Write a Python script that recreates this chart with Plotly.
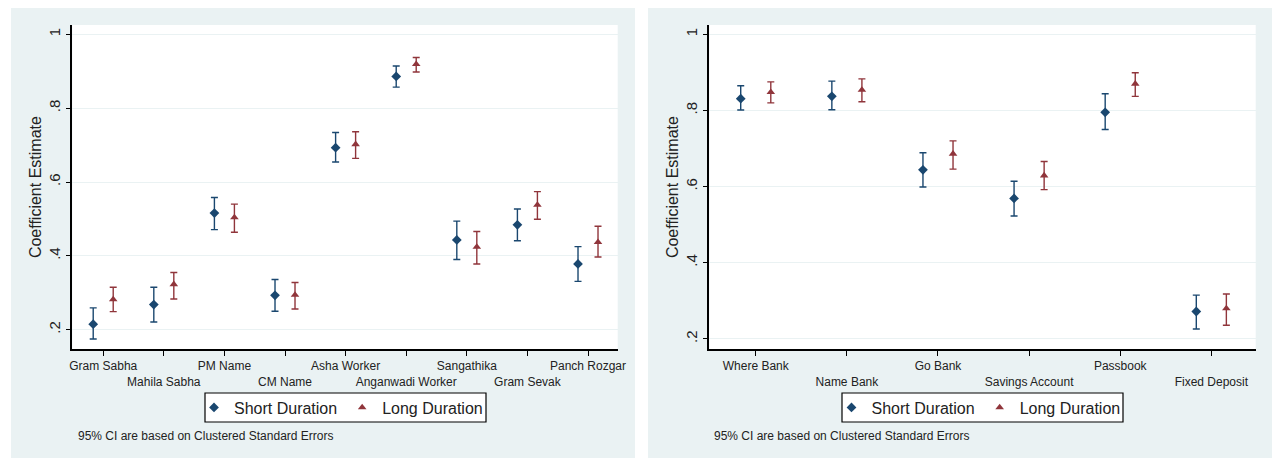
import plotly.graph_objects as go

# ---- Left panel: knowledge of local institutions and functionaries ----
inst_labels = ["Gram Sabha", "Mahila Sabha", "PM Name", "CM Name", "Asha Worker",
               "Anganwadi Worker", "Sangathika", "Gram Sevak", "Panch Rozgar"]
inst_short = [0.215, 0.268, 0.516, 0.293, 0.693, 0.886, 0.443, 0.484, 0.378]
inst_short_lo = [0.175, 0.221, 0.471, 0.250, 0.654, 0.857, 0.390, 0.441, 0.331]
inst_short_hi = [0.259, 0.315, 0.558, 0.336, 0.734, 0.914, 0.494, 0.527, 0.425]
inst_long = [0.282, 0.323, 0.504, 0.294, 0.702, 0.919, 0.424, 0.538, 0.437]
inst_long_lo = [0.249, 0.283, 0.464, 0.256, 0.664, 0.898, 0.378, 0.499, 0.397]
inst_long_hi = [0.315, 0.355, 0.540, 0.328, 0.736, 0.937, 0.466, 0.574, 0.480]

# ---- Right panel: banking knowledge and use ----
bank_labels = ["Where Bank", "Name Bank", "Go Bank", "Savings Account",
               "Passbook", "Fixed Deposit"]
bank_short = [0.831, 0.837, 0.644, 0.569, 0.795, 0.272]
bank_short_lo = [0.801, 0.802, 0.599, 0.523, 0.750, 0.226]
bank_short_hi = [0.865, 0.877, 0.689, 0.614, 0.844, 0.315]
bank_long = [0.848, 0.854, 0.686, 0.629, 0.870, 0.280]
bank_long_lo = [0.820, 0.823, 0.646, 0.592, 0.837, 0.236]
bank_long_hi = [0.875, 0.883, 0.720, 0.666, 0.899, 0.318]

y_ticks = [0.2, 0.4, 0.6, 0.8, 1.0]
y_ticktext = [".2", ".4", ".6", ".8", "1"]
note_text = "95% CI are based on Clustered Standard Errors"

NAVY = "#1A476F"
MAROON = "#90353B"
BG = "#EAF2F3"
FONT = "Liberation Sans, Arial, sans-serif"
TXT = "#222222"
W, H = 1272, 458
OFFSET = 0.165


def px(x):
    return x / W


def py(y):
    return 1 - y / H


def staggered(labels):
    return [lab if i % 2 == 0 else "<br>" + lab for i, lab in enumerate(labels)]


def ci_trace(n_off, est, lo, hi, name, color, symbol, size, xa, ya, legend):
    xs = [i + 1 + n_off for i in range(len(est))]
    return go.Scatter(
        x=xs, y=est, mode="markers", name=name,
        marker=dict(symbol=symbol, size=size, color=color),
        error_y=dict(type="data", symmetric=False,
                     array=[h - e for h, e in zip(hi, est)],
                     arrayminus=[e - l for e, l in zip(est, lo)],
                     color=color, thickness=1.4, width=3.5),
        xaxis=xa, yaxis=ya, legend=legend,
    )


fig = go.Figure()
fig.add_trace(ci_trace(-OFFSET, inst_short, inst_short_lo, inst_short_hi,
                       "Short Duration", NAVY, "diamond", 7.5, "x", "y", "legend"))
fig.add_trace(ci_trace(OFFSET, inst_long, inst_long_lo, inst_long_hi,
                       "Long Duration", MAROON, "triangle-up", 7.5, "x", "y", "legend"))
fig.add_trace(ci_trace(-OFFSET, bank_short, bank_short_lo, bank_short_hi,
                       "Short Duration", NAVY, "diamond", 7.5, "x2", "y2", "legend2"))
fig.add_trace(ci_trace(OFFSET, bank_long, bank_long_lo, bank_long_hi,
                       "Long Duration", MAROON, "triangle-up", 7.5, "x2", "y2", "legend2"))

left_dom = [px(72.3), px(617.7)]
right_dom = [px(709.3), px(1255.7)]
y_dom = [py(349.2), py(25)]

xcommon = dict(showline=True, linecolor="black", linewidth=1.5, ticks="outside",
               ticklen=5, tickcolor="black", showgrid=False, zeroline=False,
               tickangle=0, automargin=False,
               tickfont=dict(family=FONT, size=12, color=TXT))
ycommon = dict(showline=True, linecolor="black", linewidth=1.5, ticks="outside",
               ticklen=5, tickcolor="black", showgrid=True, gridcolor=BG,
               gridwidth=1, zeroline=False, tickvals=y_ticks, ticktext=y_ticktext,
               tickangle=-90, automargin=False,
               tickfont=dict(family=FONT, size=15, color=TXT),
               title=dict(text="Coefficient Estimate", standoff=0,
                          font=dict(family=FONT, size=16, color=TXT)))

legend_common = dict(orientation="h", xanchor="center", yanchor="middle",
                     bgcolor="rgba(0,0,0,0)", borderwidth=0,
                     font=dict(family=FONT, size=16, color=TXT), itemwidth=30,
                     tracegroupgap=0)

# legend frames (white boxes with a black outline)
frames = [(205, 486), (842, 1123)]

shapes = [
    dict(type="rect", xref="paper", yref="paper", x0=px(11), x1=px(635),
         y0=0, y1=py(8), fillcolor=BG, line_width=0, layer="below"),
    dict(type="rect", xref="paper", yref="paper", x0=px(648), x1=1,
         y0=0, y1=py(8), fillcolor=BG, line_width=0, layer="below"),
    dict(type="rect", xref="paper", yref="paper", x0=left_dom[0], x1=left_dom[1],
         y0=y_dom[0], y1=y_dom[1], fillcolor="white", line_width=0, layer="below"),
    dict(type="rect", xref="paper", yref="paper", x0=right_dom[0], x1=right_dom[1],
         y0=y_dom[0], y1=y_dom[1], fillcolor="white", line_width=0, layer="below"),
]
for a, b in frames:
    shapes.append(dict(type="rect", xref="paper", yref="paper", x0=px(a), x1=px(b),
                       y0=py(422), y1=py(393), fillcolor="white",
                       line=dict(color="black", width=1.2), layer="below"))

fig.update_layout(
    width=W, height=H, autosize=False,
    margin=dict(l=0, r=0, t=0, b=0, autoexpand=False),
    paper_bgcolor="white", plot_bgcolor="white",
    xaxis=dict(domain=left_dom, range=[0.49, 9.49], tickvals=list(range(1, 10)),
               ticktext=staggered(inst_labels), anchor="y", **xcommon),
    yaxis=dict(domain=y_dom, range=[0.1472, 1.0252], anchor="x", **ycommon),
    xaxis2=dict(domain=right_dom, range=[0.49, 6.487], tickvals=list(range(1, 7)),
                ticktext=staggered(bank_labels), anchor="y2", **xcommon),
    yaxis2=dict(domain=y_dom, range=[0.173, 1.0244], anchor="x2", **ycommon),
    legend=dict(x=px(341), y=py(407.5), **legend_common),
    legend2=dict(x=px(978.5), y=py(407.5), **legend_common),
    shapes=shapes,
    annotations=[
        dict(text=note_text, xref="paper", yref="paper", x=px(75.7), y=py(436),
             xanchor="left", yanchor="middle", showarrow=False,
             font=dict(family=FONT, size=12, color=TXT)),
        dict(text=note_text, xref="paper", yref="paper", x=px(712), y=py(436),
             xanchor="left", yanchor="middle", showarrow=False,
             font=dict(family=FONT, size=12, color=TXT)),
    ],
)

fig.write_html("out.html")
